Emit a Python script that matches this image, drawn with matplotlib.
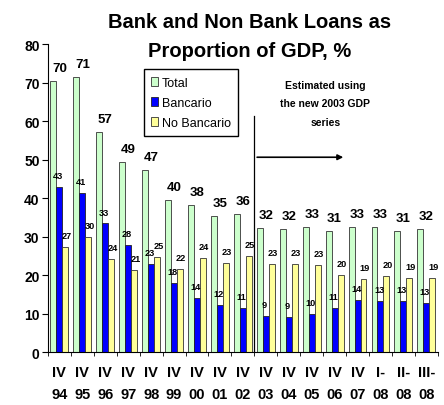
import numpy as np
import matplotlib
matplotlib.use('Agg')
import matplotlib.pyplot as plt

plt.rcParams['font.family'] = ['Liberation Sans', 'DejaVu Sans']

# quarters and loan ratios (% of GDP)
periods = ['IV\n94', 'IV\n95', 'IV\n96', 'IV\n97', 'IV\n98', 'IV\n99', 'IV\n00', 'IV\n01',
           'IV\n02', 'IV\n03', 'IV\n04', 'IV\n05', 'IV\n06', 'IV\n07', 'I-\n08', 'II-\n08', 'III-\n08']
total = [70.4, 71.4, 57.2, 49.4, 47.4, 39.6, 38.3, 35.3, 35.9, 32.3, 32.0, 32.6, 31.4, 32.6, 32.6, 31.4, 32.0]
bancario = [42.8, 41.4, 33.4, 27.8, 22.9, 18.0, 14.1, 12.1, 11.4, 9.4, 9.2, 9.8, 11.4, 13.5, 13.2, 13.2, 12.8]
no_bancario = [27.4, 30.0, 24.2, 21.4, 24.6, 21.6, 24.4, 23.2, 24.9, 22.9, 22.9, 22.6, 20.0, 19.0, 19.7, 19.3, 19.3]

x = np.arange(len(periods))
w = 0.26

fig = plt.figure(figsize=(4.44, 4.06), dpi=100)
ax = fig.add_axes([0.108, 0.1305, 0.878, 0.7585])

ax.bar(x - w, total, w, color='#ccffcc', edgecolor='#333333', linewidth=0.6, label='Total')
ax.bar(x, bancario, w, color='#0000ff', edgecolor='#222222', linewidth=0.6, label='Bancario')
ax.bar(x + w, no_bancario, w, color='#ffff99', edgecolor='#333333', linewidth=0.6, label='No Bancario')

# value labels
for i in x:
    ax.annotate('%d' % round(total[i]), (i, total[i]), xytext=(0, 5), textcoords='offset points',
                ha='center', va='bottom', fontsize=9.5, fontweight='bold')
    ax.annotate('%d' % round(bancario[i]), (i - 0.06, bancario[i]), xytext=(0, 5), textcoords='offset points',
                ha='center', va='bottom', fontsize=6.6, fontweight='bold')
    ax.annotate('%d' % round(no_bancario[i]), (i + w + 0.05, no_bancario[i]), xytext=(0, 5), textcoords='offset points',
                ha='center', va='bottom', fontsize=6.6, fontweight='bold')

ax.set_xlim(-0.5, len(periods) - 0.5)
ax.set_ylim(0, 80)
ax.set_yticks(range(0, 81, 10))
ax.set_xticks(x)
ax.set_xticklabels(periods, fontweight='bold', fontsize=10.5, linespacing=1.8)
ax.set_xticks(np.arange(-0.5, len(periods), 1), minor=True)
ax.tick_params(axis='x', which='major', length=0, pad=9)
ax.tick_params(axis='x', which='minor', length=3, direction='out')
ax.tick_params(axis='y', length=4, labelsize=10, pad=2)
for t in ax.get_yticklabels():
    t.set_fontweight('bold')
ax.spines['top'].set_visible(False)
ax.spines['right'].set_visible(False)

# break in the GDP series
ax.plot([8.5, 8.5], [0, 61.3], color='black', lw=0.9)
ax.annotate('', xy=(12.5, 50.6), xytext=(8.5, 50.6),
            arrowprops=dict(arrowstyle='-|>', color='black', lw=1.2, mutation_scale=8))
ax.text(11.6, 64.6, 'Estimated using\nthe new 2003 GDP\nseries', ha='center', va='center',
        fontsize=7.5, fontweight='bold', linespacing=2.1)

ax.legend(loc='upper left', bbox_to_anchor=(0.246, 0.919), fontsize=9, frameon=True, fancybox=False,
          edgecolor='black', handlelength=0.55, handleheight=0.7, handletextpad=0.3,
          borderpad=0.6, labelspacing=0.65, borderaxespad=0, framealpha=1)

fig.text(0.563, 0.909, 'Bank and Non Bank Loans as\nProportion of GDP, %', ha='center', va='center',
         fontsize=14.5, fontweight='bold', linespacing=1.65)

fig.savefig('out.png', dpi=100)
